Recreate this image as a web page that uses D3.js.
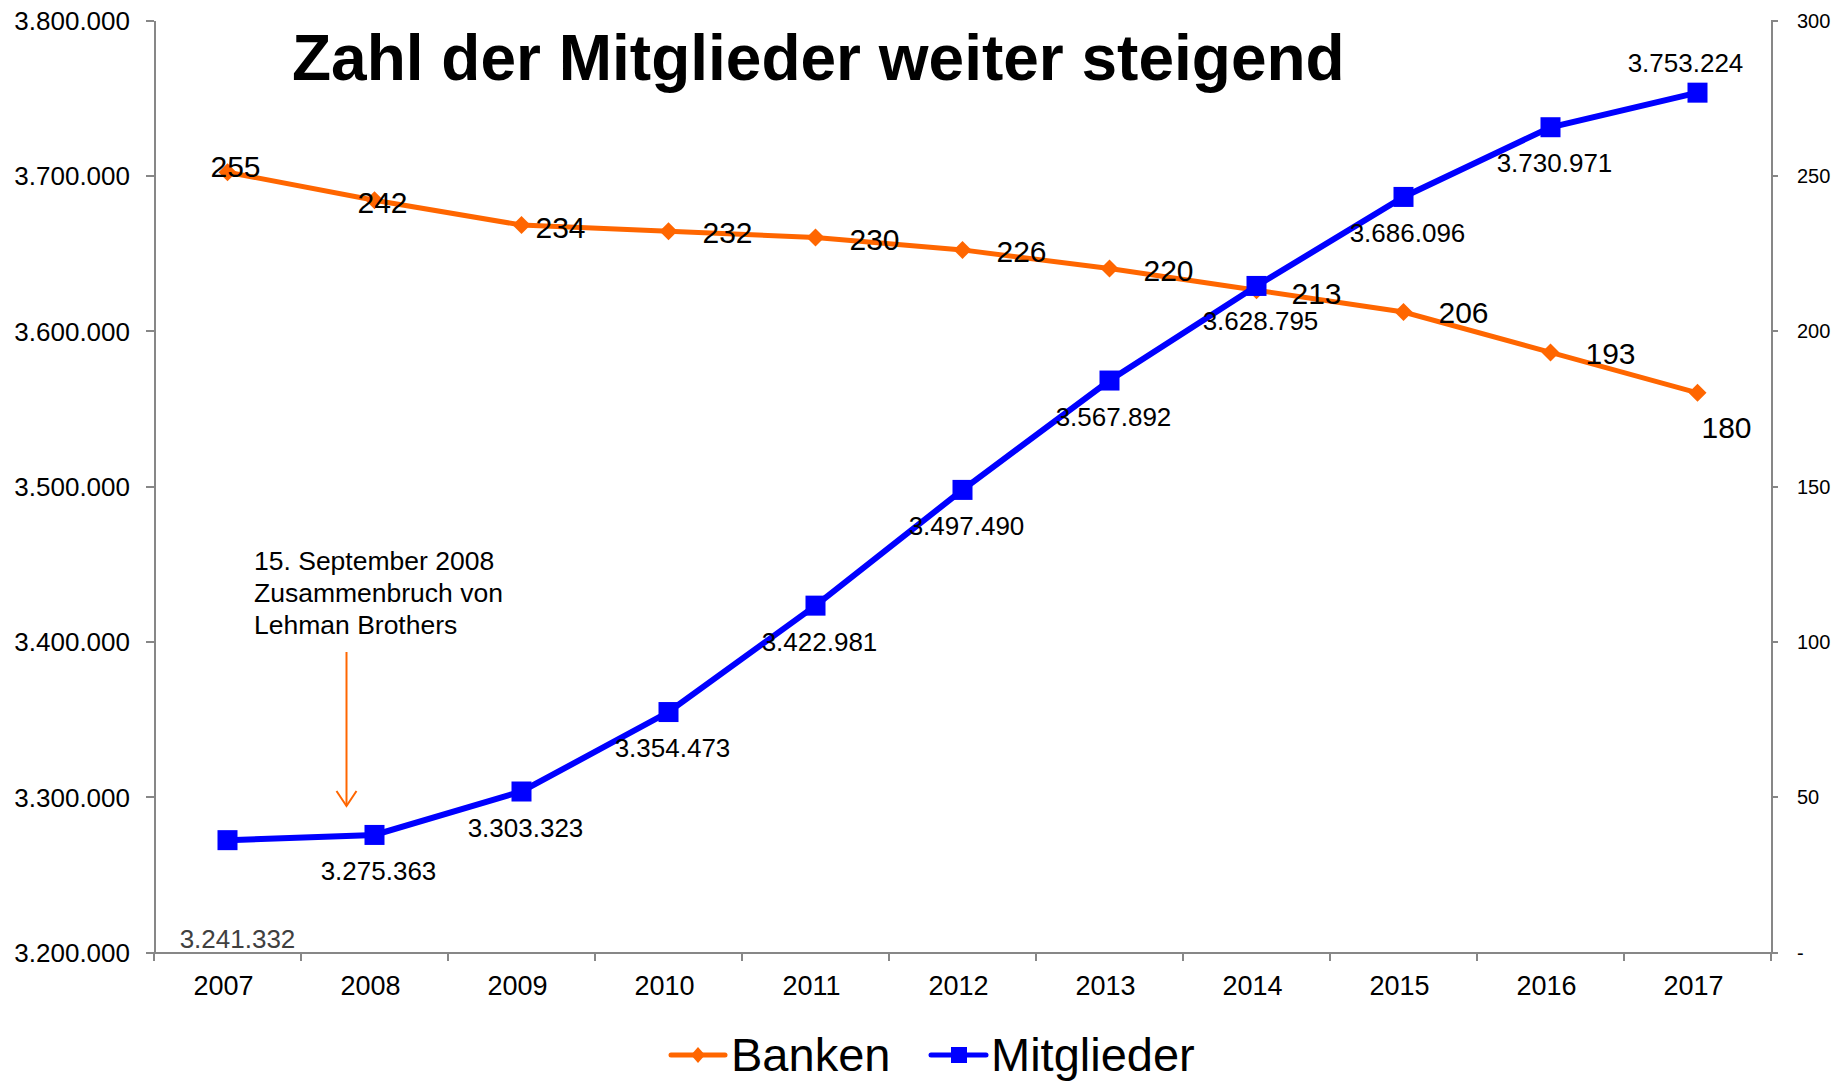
<!doctype html>
<html>
<head>
    <meta charset="utf-8">
    <script src="https://cdnjs.cloudflare.com/ajax/libs/d3/7.8.5/d3.min.js" type="text/javascript"></script>
    <style>
      body { margin: 0; background: #ffffff; }
      text { font-family: "Liberation Sans", Arial, sans-serif; fill: #000000; }
      .axis path, .axis line { stroke: #878787; stroke-width: 2px; shape-rendering: crispEdges; }
      .axis text { fill: #000000; }
    </style>
</head>
<body>
    <svg id="chart" width="1845" height="1081"></svg>
    <script>
    // values
    var years = ["2007","2008","2009","2010","2011","2012","2013","2014","2015","2016","2017"];
    // 2007 diamond sits at ~251 in the picture, its label says 255
    var banken = [251, 242, 234, 232, 230, 226, 220, 213, 206, 193, 180];
    var bankenLabels = ["255","242","234","232","230","226","220","213","206","193","180"];
    // 2007 point sits at ~3.272.000 in the picture, its label says 3.241.332
    var mitglieder = [3272000, 3275363, 3303323, 3354473, 3422981, 3497490, 3567892, 3628795, 3686096, 3730971, 3753224];
    var mitgliederLabels = ["3.241.332","3.275.363","3.303.323","3.354.473","3.422.981","3.497.490","3.567.892","3.628.795","3.686.096","3.730.971","3.753.224"];
    var leftTicks = [3200000, 3300000, 3400000, 3500000, 3600000, 3700000, 3800000];
    var rightTicks = [0, 50, 100, 150, 200, 250, 300];

    // hand placed label offsets (start anchor, baseline) like in the original
    var bankenOffsets = [[-17,5],[-17,13],[14,13],[34,12],[34,13],[34,12],[34,12],[35,14],[35,11],[35,12],[4,45]];
    var memberOffsets = [[10,108],[4,45],[4,45],[4,45],[4,45],[4,45],[4,45],[4,44],[4,45],[4,45],[-12,-21]];

    var orange = "#ff6600", blue = "#0000ff";

    var svg = d3.select("#chart");

    var de = d3.formatLocale({decimal: ",", thousands: ".", grouping: [3], currency: ["", "€"]});
    var fmt = de.format(",d");

    var x = d3.scaleBand().domain(years).range([154, 1771]).padding(0);
    var yLeft = d3.scaleLinear().domain([3200000, 3800000]).range([952, 20]);
    var yRight = d3.scaleLinear().domain([0, 300]).range([952, 20]);
    function cx(d) { return x(d) + x.bandwidth() / 2; }

    // axes
    svg.append("g")
        .attr("class", "axis")
        .attr("transform", "translate(154,0)")
        .call(d3.axisLeft(yLeft).tickValues(leftTicks).tickFormat(fmt).tickSize(8).tickSizeOuter(0).tickPadding(16))
        .selectAll("text").style("font-size", "26px").attr("dy", "0.36em");

    svg.append("g")
        .attr("class", "axis")
        .attr("transform", "translate(1771,0)")
        .call(d3.axisRight(yRight).tickValues(rightTicks)
            .tickFormat(function(d) { return d === 0 ? "-" : d; })
            .tickSize(7).tickSizeOuter(0).tickPadding(19))
        .selectAll("text").style("font-size", "20px").attr("dy", "0.36em");

    var xAxis = svg.append("g")
        .attr("class", "axis")
        .attr("transform", "translate(0,952)")
        .call(d3.axisBottom(x).tickSize(0).tickSizeOuter(0).tickPadding(24));
    xAxis.selectAll(".tick text").style("font-size", "27px").attr("dx", -4);

    // category boundary ticks
    var bounds = years.map(function(d) { return x(d); }).concat([x.range()[1]]);
    xAxis.selectAll("line.bound")
        .data(bounds)
        .enter()
        .append("line")
        .attr("class", "bound")
        .attr("x1", function(d) { return d; })
        .attr("x2", function(d) { return d; })
        .attr("y1", 0)
        .attr("y2", 9);

    // title
    svg.append("text")
        .attr("x", 292)
        .attr("y", 80)
        .style("font-size", "64px")
        .style("font-weight", "bold")
        .text("Zahl der Mitglieder weiter steigend");

    // Lehman annotation
    var note = svg.append("text").style("font-size", "26.5px");
    ["15. September 2008", "Zusammenbruch von", "Lehman Brothers"].forEach(function(t, i) {
        note.append("tspan").attr("x", 254).attr("y", 570 + i * 32).text(t);
    });
    var ax = cx("2008") - 28;
    svg.append("line")
        .attr("x1", ax).attr("x2", ax).attr("y1", 652).attr("y2", 806)
        .style("stroke", orange).style("stroke-width", 2);
    svg.append("path")
        .attr("d", "M" + (ax - 10) + ",791L" + ax + ",806L" + (ax + 10) + ",791")
        .style("fill", "none").style("stroke", orange).style("stroke-width", 2);

    var bankData = years.map(function(d, i) { return {year: d, value: banken[i], label: bankenLabels[i], off: bankenOffsets[i]}; });
    var memberData = years.map(function(d, i) { return {year: d, value: mitglieder[i], label: mitgliederLabels[i], off: memberOffsets[i]}; });

    // Banken line
    svg.append("path")
        .datum(bankData)
        .attr("d", d3.line().x(function(d) { return cx(d.year); }).y(function(d) { return yRight(d.value); }))
        .style("fill", "none").style("stroke", orange).style("stroke-width", 5);

    svg.selectAll("path.diamond")
        .data(bankData)
        .enter()
        .append("path")
        .attr("class", "diamond")
        .attr("transform", function(d) { return "translate(" + cx(d.year) + "," + yRight(d.value) + ")"; })
        .attr("d", "M0,-9L9,0L0,9L-9,0Z")
        .style("fill", orange);

    // Mitglieder line
    svg.append("path")
        .datum(memberData)
        .attr("d", d3.line().x(function(d) { return cx(d.year); }).y(function(d) { return yLeft(d.value); }))
        .style("fill", "none").style("stroke", blue).style("stroke-width", 6);

    svg.selectAll("rect.square")
        .data(memberData)
        .enter()
        .append("rect")
        .attr("class", "square")
        .attr("x", function(d) { return cx(d.year) - 10; })
        .attr("y", function(d) { return yLeft(d.value) - 10; })
        .attr("width", 20)
        .attr("height", 20)
        .style("fill", blue);

    // data labels
    svg.selectAll("text.banklabel")
        .data(bankData)
        .enter()
        .append("text")
        .attr("class", "banklabel")
        .attr("x", function(d) { return cx(d.year) + d.off[0]; })
        .attr("y", function(d) { return yRight(d.value) + d.off[1]; })
        .style("font-size", "30px")
        .text(function(d) { return d.label; });

    svg.selectAll("text.memberlabel")
        .data(memberData)
        .enter()
        .append("text")
        .attr("class", "memberlabel")
        .attr("x", function(d) { return cx(d.year) + d.off[0]; })
        .attr("y", function(d) { return yLeft(d.value) + d.off[1]; })
        .attr("text-anchor", "middle")
        .style("font-size", "26px")
        .style("fill", function(d, i) { return i === 0 ? "#404040" : "#000000"; })
        .text(function(d) { return d.label; });

    // legend
    var legend = svg.append("g").attr("transform", "translate(0,1055)");
    legend.append("line").attr("x1", 671).attr("x2", 725).attr("y1", 0).attr("y2", 0)
        .style("stroke", orange).style("stroke-width", 5).style("stroke-linecap", "round");
    legend.append("path").attr("transform", "translate(698,0)").attr("d", "M0,-8L7,0L0,8L-7,0Z").style("fill", orange);
    legend.append("text").attr("x", 731).attr("y", 16).style("font-size", "47px").text("Banken");
    legend.append("line").attr("x1", 931).attr("x2", 986).attr("y1", 0).attr("y2", 0)
        .style("stroke", blue).style("stroke-width", 5).style("stroke-linecap", "round");
    legend.append("rect").attr("x", 951).attr("y", -8).attr("width", 16).attr("height", 16).style("fill", blue);
    legend.append("text").attr("x", 991).attr("y", 16).style("font-size", "47px").text("Mitglieder");
    </script>
</body>
</html>
